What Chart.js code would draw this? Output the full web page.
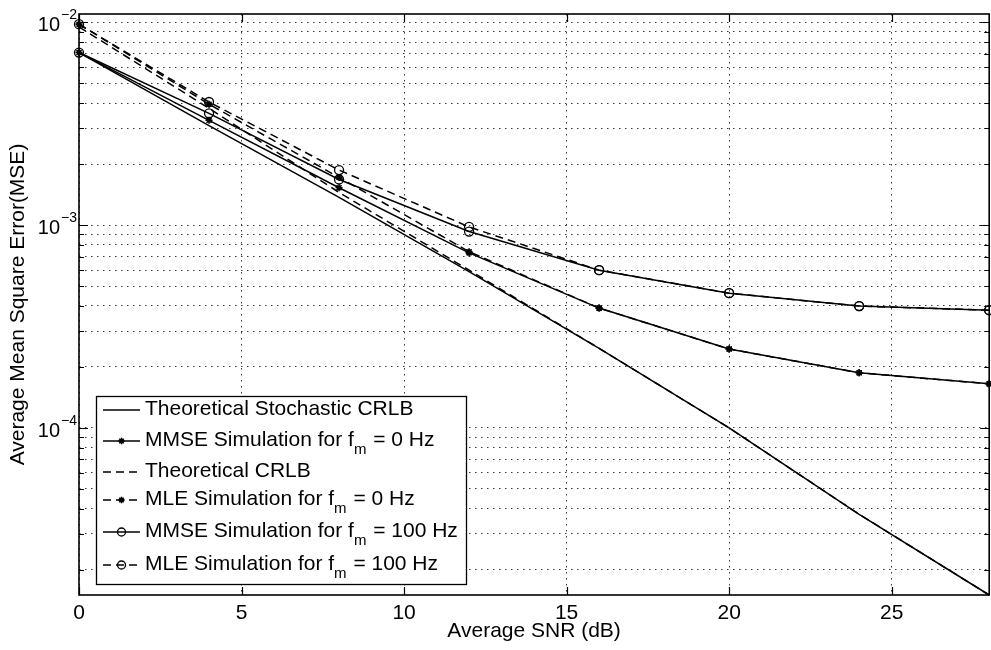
<!DOCTYPE html>
<html><head><meta charset="utf-8">
<script src="https://cdn.jsdelivr.net/npm/chart.js@4.4.1/dist/chart.umd.min.js"></script>
<style>
html,body{margin:0;padding:0;overflow:hidden;background:#fff;}
#wrap{width:991px;height:650px;overflow:hidden;position:relative;background:#fff;}
canvas{display:block;}
</style></head><body>
<div id="wrap"><canvas id="c" width="995" height="650"></canvas></div>
<script>
// ---- data ----
const snrDb = [0, 4, 8, 12, 16, 20, 24, 28];
const stochasticCrlb = [7.1e-3, 3.1e-3, 1.37e-3, 5.9e-4, 2.47e-4, 1.0e-4, 3.75e-5, 1.5e-5];
const mmse0Hz        = [7.1e-3, 3.29e-3, 1.53e-3, 7.3e-4, 3.9e-4, 2.45e-4, 1.87e-4, 1.65e-4];
const theoreticalCrlb= [9.5e-3, 3.77e-3, 1.45e-3, 6.0e-4, 2.47e-4, 1.0e-4, 3.75e-5, 1.5e-5];
const mle0Hz         = [9.8e-3, 3.95e-3, 1.72e-3, 7.4e-4, 3.9e-4, 2.45e-4, 1.87e-4, 1.65e-4];
const mmse100Hz      = [7.1e-3, 3.56e-3, 1.68e-3, 9.3e-4, 6.0e-4, 4.62e-4, 3.99e-4, 3.81e-4];
const mle100Hz       = [9.8e-3, 4.05e-3, 1.87e-3, 9.8e-4, 6.0e-4, 4.62e-4, 3.99e-4, 3.81e-4];

const seriesLabels = [
  'Theoretical Stochastic CRLB',
  'MMSE Simulation for f_{m} = 0 Hz',
  'Theoretical CRLB',
  'MLE Simulation for f_{m} = 0 Hz',
  'MMSE Simulation for f_{m} = 100 Hz',
  'MLE Simulation for f_{m} = 100 Hz'
];

const xTicks = [0, 5, 10, 15, 20, 25];
const yTicks = [2e-5,3e-5,4e-5,5e-5,6e-5,7e-5,8e-5,9e-5,
                1e-4,2e-4,3e-4,4e-4,5e-4,6e-4,7e-4,8e-4,9e-4,
                1e-3,2e-3,3e-3,4e-3,5e-3,6e-3,7e-3,8e-3,9e-3,1e-2];
const yLabelTicks = [1e-2, 1e-3, 1e-4];
const yLabelExps  = ['\u22122', '\u22123', '\u22124'];
const xTitle = 'Average SNR (dB)';
const yTitle = 'Average Mean Square Error(MSE)';

// ---- styling ----
const FONT = "'Liberation Sans', Arial, Helvetica, sans-serif";
const DASH = [8, 5];
function mk(arr){ return snrDb.map((x,i)=>({x:x, y:arr[i]})); }
function ds(label, arr, dashed, marker){
  return {
    label: label, data: mk(arr),
    borderColor:'#000', backgroundColor:'rgba(0,0,0,0)', borderWidth:1.5,
    borderDash: dashed ? DASH : [],
    pointStyle: marker || 'circle',
    pointRadius: marker ? (marker==='star' ? 3.5 : 4.5) : 0,
    pointBorderColor:'#000',
    pointBackgroundColor: marker==='star' ? '#000' : 'rgba(0,0,0,0)',
    pointBorderWidth: marker==='star' ? 1.6 : 1.3,
    tension:0, fill:false, clip:false
  };
}
const datasets = [
  ds(seriesLabels[0], stochasticCrlb, false, null),
  ds(seriesLabels[1], mmse0Hz, false, 'star'),
  ds(seriesLabels[2], theoreticalCrlb, true, null),
  ds(seriesLabels[3], mle0Hz, true, 'star'),
  ds(seriesLabels[4], mmse100Hz, false, 'circle'),
  ds(seriesLabels[5], mle100Hz, true, 'circle')
];

function drawMarker(ctx, style, x, y, r){
  ctx.save();
  ctx.setLineDash([]);
  ctx.strokeStyle = '#000';
  if (style === 'star'){
    ctx.lineWidth = 1.6;
    ctx.beginPath();
    ctx.moveTo(x-r,y); ctx.lineTo(x+r,y);
    ctx.moveTo(x,y-r); ctx.lineTo(x,y+r);
    const d = r*0.7071;
    ctx.moveTo(x-d,y-d); ctx.lineTo(x+d,y+d);
    ctx.moveTo(x-d,y+d); ctx.lineTo(x+d,y-d);
    ctx.stroke();
  } else {
    ctx.lineWidth = 1.3;
    ctx.beginPath(); ctx.arc(x,y,r,0,Math.PI*2); ctx.stroke();
  }
  ctx.restore();
}

function parseLabel(s){
  const parts = s.split(/_\{([^}]*)\}/);
  return parts.map((t,i)=>({text:t, sub: i%2===1}));
}

const decor = {
  id:'decor',
  afterDraw(chart){
    const ctx = chart.ctx, a = chart.chartArea, xs = chart.scales.x, ys = chart.scales.y;
    ctx.save();
    ctx.setLineDash([]);
    ctx.strokeStyle = '#000';
    // inner tick marks
    ctx.lineWidth = 1.2;
    ctx.beginPath();
    xTicks.forEach(v=>{
      const px = Math.round(xs.getPixelForValue(v))+0.5;
      ctx.moveTo(px,a.bottom); ctx.lineTo(px,a.bottom-8);
      ctx.moveTo(px,a.top); ctx.lineTo(px,a.top+8);
    });
    yTicks.forEach(v=>{
      const py = Math.round(ys.getPixelForValue(v))+0.5;
      const L = yLabelTicks.indexOf(v) >= 0 ? 9 : 5;
      ctx.moveTo(a.left,py); ctx.lineTo(a.left+L,py);
      ctx.moveTo(a.right,py); ctx.lineTo(a.right-L,py);
    });
    ctx.stroke();
    // box
    ctx.lineWidth = 1.6;
    ctx.strokeRect(a.left, a.top, a.right-a.left, a.bottom-a.top);
    // y tick labels 10^n
    ctx.fillStyle = '#000';
    yLabelTicks.forEach((v,i)=>{
      const py = ys.getPixelForValue(v);
      ctx.font = '20px ' + FONT;
      ctx.textAlign = 'right'; ctx.textBaseline = 'alphabetic';
      ctx.fillText('10', 60, py + 9);
      ctx.font = '14px ' + FONT;
      ctx.textAlign = 'left';
      ctx.fillText(yLabelExps[i], 61, py - 3);
    });
    // legend
    const rowY = [410, 441, 472, 500, 532, 565];
    const boxL = 96, boxT = 396, boxB = 584, lineX0 = 103, lineX1 = 140, textX = 145;
    const mainF = '21px ' + FONT, subF = '15px ' + FONT;
    let maxEnd = 0;
    const layouts = chart.data.datasets.map((d,i)=>{
      let x = textX; const segs = [];
      parseLabel(d.label).forEach(p=>{
        if (!p.text) return;
        ctx.font = p.sub ? subF : mainF;
        const w = ctx.measureText(p.text).width;
        segs.push({text:p.text, sub:p.sub, x:x});
        x += w + (p.sub ? 1 : 0);
      });
      maxEnd = Math.max(maxEnd, x);
      return segs;
    });
    const boxR = Math.round(maxEnd + 8);
    ctx.fillStyle = '#fff';
    ctx.fillRect(boxL, boxT, boxR-boxL, boxB-boxT);
    ctx.lineWidth = 1.3; ctx.strokeStyle = '#000';
    ctx.strokeRect(boxL+0.5, boxT+0.5, boxR-boxL, boxB-boxT);
    chart.data.datasets.forEach((d,i)=>{
      const y = rowY[i];
      ctx.save();
      ctx.strokeStyle = '#000'; ctx.lineWidth = 1.5;
      ctx.setLineDash(d.borderDash || []);
      ctx.beginPath(); ctx.moveTo(lineX0, y); ctx.lineTo(lineX1, y); ctx.stroke();
      ctx.restore();
      if (d.pointRadius > 0){
        drawMarker(ctx, d.pointStyle, (lineX0+lineX1)/2, y, d.pointStyle==='star'?3.2:4);
      }
      ctx.fillStyle = '#000'; ctx.textAlign = 'left'; ctx.textBaseline = 'alphabetic';
      const base = y - 3 + 7.5;
      layouts[i].forEach(s=>{
        ctx.font = s.sub ? subF : mainF;
        ctx.fillText(s.text, s.x, s.sub ? base + 8 : base);
      });
    });
    ctx.restore();
  }
};

const gridOpts = {color:'#3a3a3a', lineWidth:1, drawTicks:false};
new Chart(document.getElementById('c'), {
  type:'line',
  data:{datasets:datasets},
  options:{
    responsive:false, animation:false, events:[], devicePixelRatio:1,
    layout:{padding:{top:14, right:2, bottom:0, left:0}},
    plugins:{legend:{display:false}, tooltip:{enabled:false}},
    scales:{
      x:{
        type:'linear', min:0, max:28,
        afterBuildTicks: s => { s.ticks = xTicks.map(v=>({value:v})); },
        afterFit: s => { s.height = 55; },
        grid: gridOpts,
        border:{display:false, dash:[1.5,4.5]},
        ticks:{color:'#000', font:{family:FONT, size:21}, padding:6, maxRotation:0, autoSkip:false},
        title:{display:true, text:xTitle, color:'#000', font:{family:FONT, size:21}, padding:{top:0, bottom:6}}
      },
      y:{
        type:'logarithmic', min:1.5e-5, max:1.1e-2,
        afterBuildTicks: s => { s.ticks = yTicks.map(v=>({value:v})); },
        afterFit: s => { s.width = 79; },
        grid: gridOpts,
        border:{display:false, dash:[1.5,4.5]},
        ticks:{display:false},
        title:{display:true, text:yTitle, color:'#000', font:{family:FONT, size:21}, padding:{top:6, bottom:0}}
      }
    }
  },
  plugins:[decor]
});
</script>
</body></html>
